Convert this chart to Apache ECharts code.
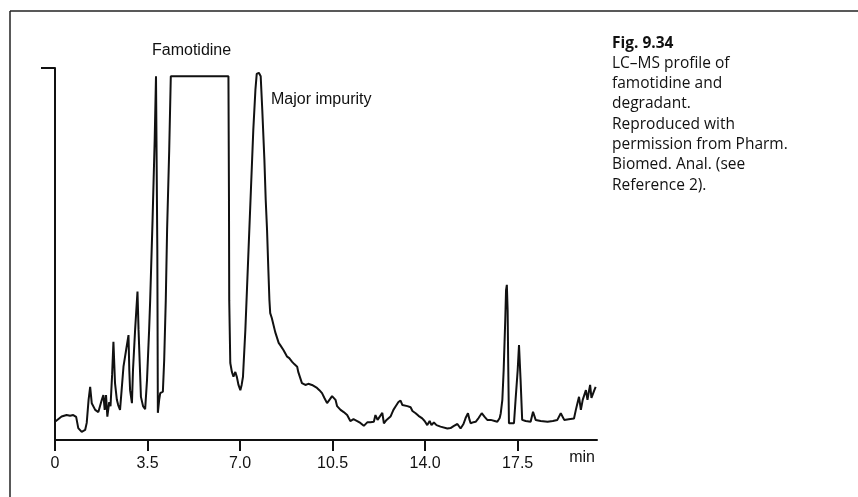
<!DOCTYPE html>
<html>
<head>
<meta charset="utf-8">
<script src="https://cdn.jsdelivr.net/npm/echarts@6/dist/echarts.min.js"></script>
<style>
html,body{margin:0;padding:0;background:#fff;}
#chart{width:858px;height:497px;}
</style>
</head>
<body>
<div id="chart"></div>
<script>
// Retention time (min)
const times = [
  0.00,0.25,0.44,0.57,0.69,0.80,0.88,1.01,1.14,1.20,1.27,1.33,1.39,1.52,1.64,1.70,1.77,1.83,1.88,1.93,
  1.98,2.05,2.10,2.16,2.21,2.27,2.34,2.39,2.46,2.52,2.59,2.69,2.78,2.81,2.84,2.91,2.95,3.03,3.12,3.16,
  3.25,3.33,3.41,3.48,3.56,3.60,3.69,3.77,3.82,3.85,3.87,3.89,3.94,3.98,4.08,4.13,4.19,4.24,4.32,4.38,
  6.56,6.58,6.59,6.63,6.69,6.75,6.82,6.88,6.94,7.01,7.06,7.11,7.20,7.26,7.32,7.41,7.50,7.58,7.63,7.71,
  7.78,7.84,7.92,7.97,8.02,8.07,8.11,8.14,8.20,8.27,8.33,8.46,8.52,8.64,8.78,8.86,8.97,9.05,9.16,9.20,
  9.34,9.47,9.58,9.72,9.91,10.00,10.10,10.19,10.29,10.38,10.48,10.54,10.61,10.67,10.80,10.92,11.05,11.17,11.29,11.43,
  11.55,11.68,11.82,11.93,12.06,12.12,12.20,12.27,12.38,12.44,12.54,12.69,12.80,12.88,12.99,13.07,13.14,13.19,13.33,13.45,
  13.52,13.64,13.75,13.89,13.98,14.08,14.17,14.24,14.33,14.43,14.58,14.84,14.96,15.09,15.22,15.34,15.45,15.53,15.62,15.68,
  15.72,15.83,15.91,16.02,16.14,16.25,16.35,16.48,16.63,16.73,16.82,16.86,16.92,16.97,17.03,17.06,17.09,17.12,17.14,17.17,
  17.23,17.36,17.42,17.50,17.55,17.58,17.61,17.67,17.80,17.99,18.08,18.18,18.37,18.63,18.83,19.00,19.13,19.26,19.43,19.63,
  19.70,19.76,19.82,19.89,19.96,20.08,20.14,20.19,20.24,20.29,20.34,20.40,20.45
];
// Detector response (relative, clipped at top)
const intensity = [
  4.9,6.3,6.7,6.5,6.7,6.2,3.2,2.2,2.7,4.6,10.8,14.3,9.9,8.1,7.5,7.6,10.8,12.1,8.1,12.1,
  6.3,10.2,9.1,17.5,26.4,15.3,10.8,9.4,8.1,13.4,19.7,24.2,28.2,18.8,13.4,9.9,18.8,29.6,39.9,29.6,
  11.6,9.1,8.3,16.1,29.6,37.6,59.1,80.6,97.8,97.8,51.1,7.3,10.8,12.6,13.0,21.5,37.6,56.5,78.0,97.8,
  97.8,64.5,37.6,20.7,18.3,17.0,18.3,16.9,14.8,13.4,14.8,17.0,29.6,40.3,51.1,67.2,83.3,94.1,98.4,98.7,
  97.8,88.7,75.3,64.5,56.5,45.7,37.6,34.1,32.8,32.3,29.0,26.1,25.5,24.2,22.4,22.0,21.0,20.4,19.7,18.3,
  15.3,14.8,15.1,14.8,14.0,13.4,12.6,11.3,9.9,10.8,11.8,12.1,10.8,9.1,8.1,7.5,6.7,5.1,5.6,5.1,
  4.6,3.8,4.8,4.8,4.9,6.7,5.4,5.9,7.3,4.5,5.4,6.3,8.1,9.0,10.2,10.6,9.4,9.0,9.1,8.8,
  7.8,7.2,6.5,5.8,5.1,4.0,5.1,4.0,4.7,4.0,3.6,3.1,3.2,3.8,4.3,3.1,4.3,5.9,7.2,5.4,
  4.5,4.8,4.9,5.9,7.2,6.2,5.4,5.4,5.1,4.9,5.9,7.2,10.8,18.8,32.3,40.3,41.7,34.9,21.5,4.5,
  4.3,4.5,10.8,18.8,25.5,25.0,16.1,5.4,5.1,4.9,7.6,5.4,5.1,4.9,5.1,5.4,7.2,5.4,5.6,5.8,
  8.1,9.9,11.6,8.1,10.8,13.4,10.8,12.9,14.8,11.3,10.8,13.4,14.3
];
const xTicks = [0, 3.5, 7.0, 10.5, 14.0, 17.5];
const peakLabels = ['Famotidine', 'Major impurity'];
const captionTitle = 'Fig. 9.34';
const captionLines = ['LC–MS profile of', 'famotidine and', 'degradant.', 'Reproduced with',
  'permission from Pharm.', 'Biomed. Anal. (see', 'Reference 2).'];

const chart = echarts.init(document.getElementById('chart'), null, {renderer: 'canvas'});
const data = times.map((t, i) => [t, intensity[i]]);
const ink = '#111';

chart.setOption({
  backgroundColor: '#fff',
  animation: false,
  grid: {left: 55, right: 261, top: 68, bottom: 57},
  xAxis: {
    type: 'value', min: 0, max: 20.5,
    name: 'min', nameLocation: 'end', nameGap: -2,
    nameTextStyle: {color: ink, fontFamily: 'Liberation Sans', fontSize: 16, align: 'right', verticalAlign: 'top', padding: [10, 0, 0, 0]},
    axisLine: {show: true, onZero: false, lineStyle: {color: ink, width: 2}},
    axisTick: {show: true, inside: false, length: 11, customValues: xTicks, lineStyle: {color: ink, width: 2}},
    axisLabel: {show: true, customValues: xTicks, margin: 16, color: ink, fontFamily: 'Liberation Sans', fontSize: 16,
      formatter: v => v === 0 ? '0' : v.toFixed(1)},
    splitLine: {show: false}
  },
  yAxis: {
    type: 'value', min: 0, max: 100,
    axisLine: {show: true, onZero: false, lineStyle: {color: ink, width: 2}},
    axisTick: {show: true, inside: false, length: 14, customValues: [100], lineStyle: {color: ink, width: 2}},
    axisLabel: {show: false},
    splitLine: {show: false}
  },
  series: [{
    type: 'line', data: data, symbol: 'none', smooth: false, clip: true,
    lineStyle: {color: ink, width: 2}
  }],
  graphic: [
    {type: 'line', shape: {x1: 10, y1: 11, x2: 858, y2: 11}, style: {stroke: '#222', lineWidth: 1.5}, silent: true},
    {type: 'line', shape: {x1: 10, y1: 11, x2: 10, y2: 497}, style: {stroke: '#222', lineWidth: 1.5}, silent: true},
    {type: 'text', left: 152, top: 43, style: {text: peakLabels[0], fill: ink, font: '16px "Liberation Sans"'}},
    {type: 'text', left: 271, top: 92, style: {text: peakLabels[1], fill: ink, font: '16px "Liberation Sans"'}},
    {type: 'text', left: 612, top: 33, style: {
      text: '{b|' + captionTitle + '}\n' + captionLines.join('\n'),
      fill: ink, font: '15.5px "Open Sans"', lineHeight: 20.3,
      rich: {b: {fontWeight: 'bold', fontFamily: 'Open Sans', fontSize: 15.5, lineHeight: 20.3, fill: ink}}
    }}
  ]
});
</script>
</body>
</html>
